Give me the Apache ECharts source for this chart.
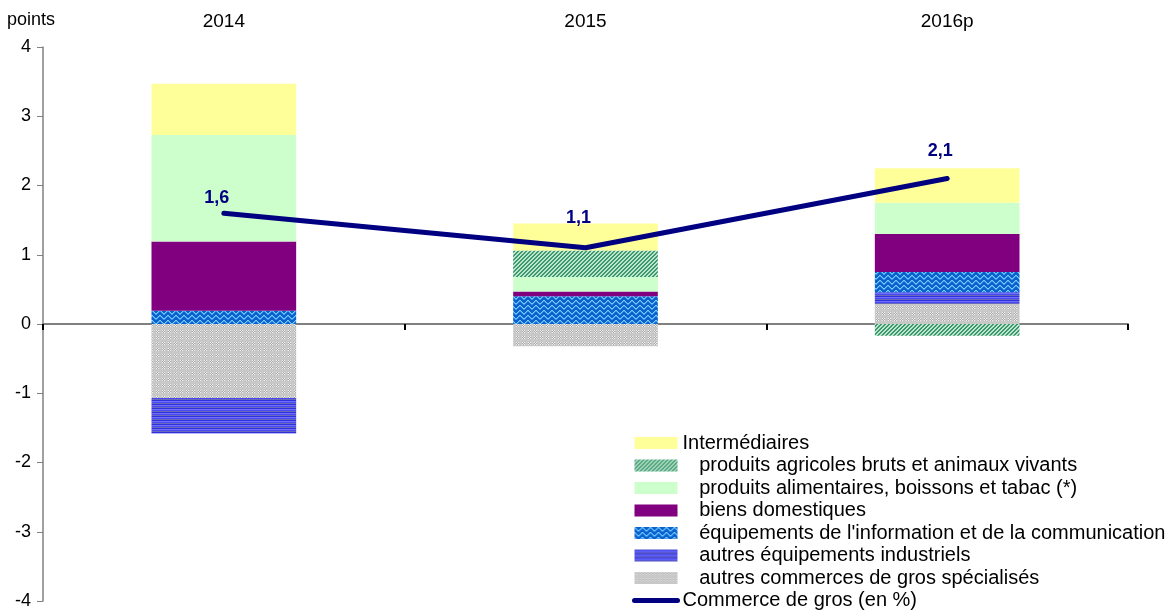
<!DOCTYPE html>
<html>
<head>
<meta charset="utf-8">
<script src="https://cdn.jsdelivr.net/npm/echarts@6/dist/echarts.min.js"></script>
<style>
  html, body { margin: 0; padding: 0; background: #ffffff; }
  #chart { width: 1175px; height: 610px; }
</style>
</head>
<body>
<div id="chart"></div>
<script>
// Contributions à la croissance du commerce de gros (en points)
const years = ['2014', '2015', '2016p'];
const intermediaires = [0.74, 0.39, 0.50];
const produitsAgricoles = [0, 0.38, -0.17];
const produitsAlimentaires = [1.54, 0.21, 0.45];
const biensDomestiques = [1.00, 0.07, 0.55];
const equipementsInfo = [0.19, 0.40, 0.29];
const autresEquipements = [-0.51, 0, 0.17];
const autresCommerces = [-1.07, -0.32, 0.29];
const commerceDeGros = [1.6, 1.1, 2.1];
const yTicks = [-4, -3, -2, -1, 0, 1, 2, 3, 4];

// gap between each point of the line and its value label (px)
const labelGap = [6, 20, 18];

const names = {
  inter: 'Intermédiaires',
  agri: 'produits agricoles bruts et animaux vivants',
  alim: 'produits alimentaires, boissons et tabac (*)',
  biens: 'biens domestiques',
  info: "équipements de l'information et de la communication",
  equip: 'autres équipements industriels',
  comm: 'autres commerces de gros spécialisés',
  total: 'Commerce de gros (en %)'
};

// Small tiled canvases used as pattern fills
function tile(w, h, painter) {
  const c = document.createElement('canvas');
  c.width = w; c.height = h;
  const ctx = c.getContext('2d');
  for (let y = 0; y < h; y++) {
    for (let x = 0; x < w; x++) {
      ctx.fillStyle = painter(x, y);
      ctx.fillRect(x, y, 1, 1);
    }
  }
  return { image: c, repeat: 'repeat' };
}

// diagonal hatch, green
const hatchGreen = tile(4, 4, (x, y) => ((x + y) % 4 < 2 ? '#3a9a6c' : '#bfe4d0'));

// wave pattern, blue
const waveProfile = [0, 1, 2, 3, 3, 2, 1, 0];
const waveBlue = tile(8, 5, (x, y) => {
  const w = waveProfile[x] % 5;
  if (y === w) return '#7cc8ff';
  if (y === (w + 1) % 5) return '#3b96ec';
  return '#0a62cc';
});

// horizontal stripes, blue
const stripeRows = ['#3030d8', '#7070ff', '#4848f0', '#6a6ab8'];
const stripeBlue = tile(1, 4, (x, y) => stripeRows[y]);

// dotted grey
const dotGrey = tile(6, 6, (x, y) => {
  if (x < 3 && y < 3) return ((x + y) % 2 === 0) ? '#eeeeee' : '#a8a8a8';
  return '#c8c8c8';
});

function barSeries(name, data, color) {
  return {
    name: name,
    type: 'bar',
    stack: 'contrib',
    data: data,
    barWidth: '40%',
    itemStyle: { color: color },
    emphasis: { disabled: true }
  };
}

const chart = echarts.init(document.getElementById('chart'), null, { renderer: 'canvas' });

const font = 'Liberation Sans, Arial, sans-serif';

chart.setOption({
  animation: false,
  backgroundColor: '#ffffff',
  textStyle: { fontFamily: font },
  title: {
    text: 'points',
    left: 7,
    top: 11,
    padding: 0,
    textStyle: { fontFamily: font, fontSize: 18, fontWeight: 'normal', color: '#000' }
  },
  grid: { left: 43, right: 47, top: 47, bottom: 6, containLabel: false },
  xAxis: [
    {
      type: 'category',
      data: years,
      position: 'top',
      axisLine: { show: false, onZero: false },
      axisTick: { show: false },
      axisLabel: { color: '#000', fontSize: 19, fontFamily: font, margin: 16 }
    },
    {
      type: 'category',
      data: years,
      position: 'bottom',
      axisLine: { show: true, onZero: true, lineStyle: { color: '#808080', width: 2 } },
      axisTick: { show: true, length: 6, lineStyle: { color: '#000', width: 2 } },
      axisLabel: { show: false }
    }
  ],
  yAxis: {
    type: 'value',
    min: yTicks[0],
    max: yTicks[yTicks.length - 1],
    interval: 1,
    splitLine: { show: false },
    axisLine: { show: true, onZero: false, lineStyle: { color: '#808080', width: 1.5 } },
    axisTick: { show: true, length: 6, lineStyle: { color: '#808080' } },
    axisLabel: { color: '#000', fontSize: 18, fontFamily: font, margin: 12 }
  },
  legend: {
    orient: 'vertical',
    left: 632,
    top: 433,
    padding: 0,
    height: 180,
    itemWidth: 43,
    itemHeight: 12,
    itemGap: 2.5,
    selectedMode: false,
    textStyle: { color: '#000', fontSize: 20, fontFamily: font, lineHeight: 20 },
    formatter: function (n) {
      return (n === names.inter || n === names.total) ? n : '   ' + n;
    },
    data: [
      { name: names.inter, icon: 'rect' },
      { name: names.agri, icon: 'rect' },
      { name: names.alim, icon: 'rect' },
      { name: names.biens, icon: 'rect' },
      { name: names.info, icon: 'rect' },
      { name: names.equip, icon: 'rect' },
      { name: names.comm, icon: 'rect' },
      {
        name: names.total,
        itemStyle: { color: 'rgba(0,0,0,0)', borderWidth: 0 },
        lineStyle: { color: '#000080', width: 5, cap: 'round' }
      }
    ]
  },
  series: [
    barSeries(names.comm, autresCommerces, dotGrey),
    barSeries(names.equip, autresEquipements, stripeBlue),
    barSeries(names.info, equipementsInfo, waveBlue),
    barSeries(names.biens, biensDomestiques, '#800080'),
    barSeries(names.alim, produitsAlimentaires, '#ccffcc'),
    barSeries(names.agri, produitsAgricoles, hatchGreen),
    barSeries(names.inter, intermediaires, '#ffff99'),
    {
      name: names.total,
      type: 'line',
      data: commerceDeGros.map((v, i) => ({ value: v, label: { distance: labelGap[i] } })),
      symbol: 'circle',
      symbolSize: 1,
      showSymbol: true,
      itemStyle: { color: '#000080' },
      lineStyle: { color: '#000080', width: 5, cap: 'round', join: 'round' },
      emphasis: { disabled: true },
      label: {
        show: true,
        position: 'top',
        offset: [-7, 0],
        color: '#000080',
        fontWeight: 'bold',
        fontSize: 18,
        fontFamily: font,
        formatter: function (p) { return p.value.toFixed(1).replace('.', ','); }
      },
      z: 5
    }
  ]
});
</script>
</body>
</html>
